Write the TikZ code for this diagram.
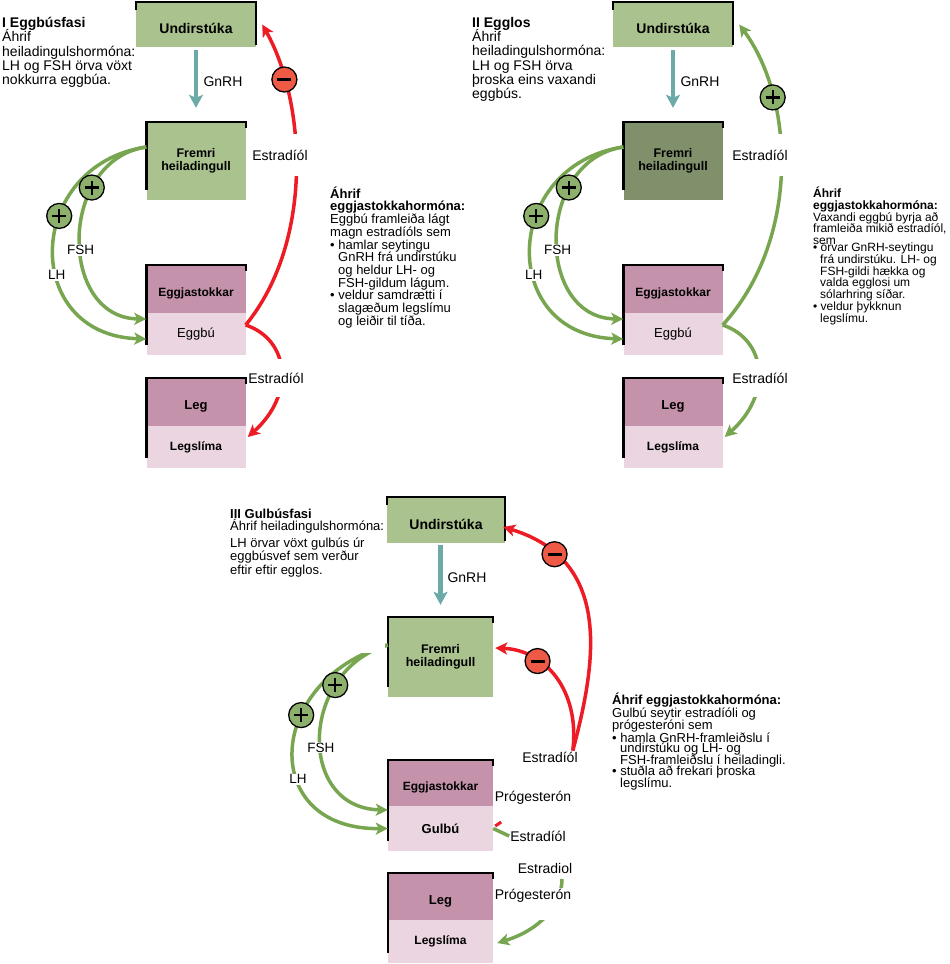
\documentclass[tikz,border=0pt]{standalone}
\usepackage{fontspec}
\setmainfont{Liberation Sans}
\usetikzlibrary{arrows.meta}
\definecolor{glandgreen}{HTML}{AAC28E}
\definecolor{glanddark}{HTML}{80906A}
\definecolor{ovmauve}{HTML}{C492AA}
\definecolor{ovpink}{HTML}{EAD5E0}
\definecolor{gnrhteal}{HTML}{6CAAAA}
\definecolor{stimgreen}{HTML}{78A550}
\definecolor{inhibred}{HTML}{ED1C24}
\definecolor{plusfill}{HTML}{8DB06C}
\definecolor{minusfill}{HTML}{EE5A45}
\newcommand{\fsz}[1]{\fontsize{#1}{#1}\selectfont}
\setlength{\lineskiplimit}{-\maxdimen}
\tikzset{
    every node/.style={font=\fsz{14}},
    hypo/.style={rectangle,fill=glandgreen,inner sep=0pt,minimum width=120pt,minimum height=45pt,text height=18pt,text depth=0pt,font=\bfseries\fsz{14}},
    pit/.style={rectangle,fill=glandgreen,inner sep=0pt,minimum width=99pt,minimum height=78pt,align=center,font=\bfseries\fontsize{12.5}{12.5}\selectfont},
    ovary/.style={rectangle,fill=ovmauve,inner sep=0pt,minimum width=99pt,minimum height=48pt,text height=18pt,text depth=3pt,font=\bfseries\fsz{12}},
    follicle/.style={rectangle,fill=ovpink,inner sep=0pt,minimum width=99pt,minimum height=42pt,font=\fsz{13}},
    rim/.style={black,line width=2.4pt},
    gnrh/.style={gnrhteal,line width=4.5pt,-{Stealth[length=13pt,width=14pt,inset=3pt]}},
    stim/.style={stimgreen,line width=3.5pt,-{Stealth[length=12pt,width=12pt,inset=3pt]}},
    inhib/.style={inhibred,line width=3.5pt,-{Stealth[length=12pt,width=12pt,inset=3pt]}},
    plus/.style={circle,draw=black,fill=plusfill,line width=1.3pt,minimum size=25pt,inner sep=0pt,
        path picture={\draw[-,black,line width=2.2pt]
            ([xshift=-7pt]path picture bounding box.center) -- ([xshift=7pt]path picture bounding box.center)
            ([yshift=-7pt]path picture bounding box.center) -- ([yshift=7pt]path picture bounding box.center);}},
    minus/.style={circle,draw=black,fill=minusfill,line width=1.3pt,minimum size=25pt,inner sep=0pt,
        path picture={\draw[-,black,line width=3pt]
            ([xshift=-7pt]path picture bounding box.center) -- ([xshift=7pt]path picture bounding box.center);}},
    hormone/.style={fill=white,text=black,inner sep=1pt,font=\fsz{14}},
    txt/.style={anchor=north west,align=left,inner sep=0pt,text=black}
}

\begin{document}
\begin{tikzpicture}[x=1pt,y=1pt]
    \useasboundingbox (0,0) rectangle (950,-964);
    \fill[white] (0,0) rectangle (950,-964);

    % I Eggbusfasi
    \node[txt,font=\fontsize{14}{14.3}\selectfont] (head1) at (2,-17)
        {\textbf{I Eggbúsfasi}\\Áhrif\\heiladingulshormóna:\\LH og FSH örva vöxt\\nokkurra eggbúa.};
    \node[hypo] (und1) at (196,-24.5) {Undirstúka};
    \node[pit] (fre1) at (196,-161) {Fremri\\heiladingull};
    \node[ovary] (ova1) at (196,-289) {Eggjastokkar};
    \node[follicle] (fol1) at (196,-334) {Eggbú};
    \node[ovary,font=\bfseries\fsz{13}] (leg1) at (196,-402) {Leg};
    \node[follicle,font=\bfseries\fsz{12}] (end1) at (196,-447) {Legslíma};
    \draw[rim] ([yshift=-8pt]und1.north west) |- (und1.north east) -- ([yshift=2pt]und1.south east);
    \foreach \t/\b in {fre1/fre1,ova1/fol1,leg1/end1}
        \draw[rim] ([yshift=10pt]\b.south west) |- (\t.north east) -- ++(0,-6);
    \draw[gnrh,shorten <=3pt,shorten >=14pt] (und1.south -| fre1.north) -- (fre1.north);
    \node (gn1) at (223,-82) {GnRH};
    \draw[stim] ([yshift=14pt]fre1.west) .. controls (25,-165) and (20,-335) .. ([yshift=-5pt]fol1.west)
        node[plus,pos=.38] (pa1) {} node[hormone,font=\fsz{13.5},pos=.6] (lh1) {LH};
    \draw[stim] ([yshift=14pt]fre1.west) .. controls (58,-160) and (58,-318) .. ([yshift=15pt]fol1.west)
        node[plus,pos=.29] (pb1) {} node[hormone,font=\fsz{13.5},pos=.55] (fsh1) {FSH};
    \draw[inhib] ([yshift=9pt]fol1.east) .. controls (315,-240) and (305,-100) .. ([xshift=6pt]und1.east)
        node[minus,pos=.79] (m1) {};
    \draw[inhib] ([yshift=9pt]fol1.east) .. controls (290,-340) and (295,-395) .. ([shift={(2pt,10pt)}]end1.east);
    \node[hormone,inner ysep=16pt] (e1a) at (280,-155) {Estradíól};
    \node[hormone,inner ysep=14pt] (e1b) at (276,-378) {Estradíól};
    \node[txt,font=\fontsize{13}{12.7}\selectfont] (eff1) at (330,-186.5)
        {\textbf{Áhrif}\\
         \textbf{eggjastokkahormóna:}\\
         Eggbú framleiða lágt\\
         magn estradíóls sem\\
         \textbullet\ hamlar seytingu\\
         \hspace*{8pt}GnRH frá undirstúku\\
         \hspace*{8pt}og heldur LH- og\\
         \hspace*{8pt}FSH-gildum lágum.\\
         \textbullet\ veldur samdrætti í\\
         \hspace*{8pt}slagæðum legslímu\\
         \hspace*{8pt}og leiðir til tíða.};

    % II Egglos
    \begin{scope}[xshift=477pt]
        \node[txt,font=\fontsize{14}{14.3}\selectfont] (head2) at (-5,-17)
            {\textbf{II Egglos}\\Áhrif\\heiladingulshormóna:\\LH og FSH örva\\þroska eins vaxandi\\eggbús.};
        \node[hypo] (und2) at (196,-24.5) {Undirstúka};
        \node[pit,fill=glanddark] (fre2) at (196,-161) {Fremri\\heiladingull};
        \node[ovary] (ova2) at (196,-289) {Eggjastokkar};
        \node[follicle] (fol2) at (196,-334) {Eggbú};
        \node[ovary,font=\bfseries\fsz{13}] (leg2) at (196,-402) {Leg};
        \node[follicle,font=\bfseries\fsz{12}] (end2) at (196,-447) {Legslíma};
        \draw[rim] ([yshift=-8pt]und2.north west) |- (und2.north east) -- ([yshift=2pt]und2.south east);
        \foreach \t/\b in {fre2/fre2,ova2/fol2,leg2/end2}
            \draw[rim] ([yshift=10pt]\b.south west) |- (\t.north east) -- ++(0,-6);
        \draw[gnrh,shorten <=3pt,shorten >=14pt] (und2.south -| fre2.north) -- (fre2.north);
        \node (gn2) at (223,-82) {GnRH};
        \draw[stim] ([yshift=14pt]fre2.west) .. controls (25,-165) and (20,-335) .. ([yshift=-5pt]fol2.west)
            node[plus,pos=.38] (pa2) {} node[hormone,font=\fsz{13.5},pos=.6] (lh2) {LH};
        \draw[stim] ([yshift=14pt]fre2.west) .. controls (58,-160) and (58,-318) .. ([yshift=15pt]fol2.west)
            node[plus,pos=.29] (pb2) {} node[hormone,font=\fsz{13.5},pos=.55] (fsh2) {FSH};
        \draw[stim] ([yshift=9pt]fol2.east) .. controls (323,-240) and (318,-100) .. ([xshift=6pt]und2.east)
            node[plus,pos=.73] (pc2) {};
        \draw[stim] ([yshift=9pt]fol2.east) .. controls (290,-340) and (295,-395) .. ([shift={(2pt,10pt)}]end2.east);
        \node[hormone,inner ysep=16pt] (e2a) at (283,-155) {Estradíól};
        \node[hormone,inner ysep=14pt] (e2b) at (283,-378) {Estradíól};
        \node[txt,font=\fontsize{12}{11.7}\selectfont] (eff2) at (336,-187)
            {\textbf{Áhrif}\\
             \textbf{eggjastokkahormóna:}\\
             Vaxandi eggbú byrja að\\
             framleiða mikið estradíól,\\
             sem\\[-4.5pt]
             \textbullet\ örvar GnRH-seytingu\\
             \hspace*{7pt}frá undirstúku. LH- og\\
             \hspace*{7pt}FSH-gildi hækka og\\
             \hspace*{7pt}valda egglosi um\\
             \hspace*{7pt}sólarhring síðar.\\
             \textbullet\ veldur þykknun\\
             \hspace*{7pt}legslímu.};
    \end{scope}

    % III Gulbusfasi
    \node[txt,font=\fontsize{13}{13.5}\selectfont] (head3) at (230,-508.5)
        {\textbf{III Gulbúsfasi}\\[-1.5pt]Áhrif heiladingulshormóna:\\[3.5pt]LH örvar vöxt gulbús úr\\eggbúsvef sem verður\\eftir eftir egglos.};
    \node[hypo,minimum width=118pt,minimum height=46pt] (und3) at (446,-520) {Undirstúka};
    \node[pit,minimum width=105pt,minimum height=80pt] (fre3) at (440.5,-657) {Fremri\\heiladingull};
    \node[ovary,minimum width=105pt,minimum height=46pt] (ova3) at (440.5,-783) {Eggjastokkar};
    \node[follicle,minimum width=105pt,minimum height=45pt,font=\bfseries\fsz{13}] (gul3) at (440.5,-828.5) {Gulbú};
    \node[ovary,minimum width=105pt,minimum height=47pt,font=\bfseries\fsz{13}] (leg3) at (440.5,-896.5) {Leg};
    \node[follicle,minimum width=105pt,minimum height=43pt,font=\bfseries\fsz{12}] (end3) at (440.5,-941.5) {Legslíma};
    \draw[rim] ([yshift=-8pt]und3.north west) |- (und3.north east) -- ([yshift=2pt]und3.south east);
    \foreach \t/\b in {fre3/fre3,ova3/gul3,leg3/end3}
        \draw[rim] ([yshift=10pt]\b.south west) |- (\t.north east) -- ++(0,-6);
    \draw[gnrh,shorten <=2pt,shorten >=12pt] (und3.south -| fre3.north) -- (fre3.north);
    \node (gn3) at (467,-578) {GnRH};
    \begin{scope}
        \clip (250,-653) rectangle (400,-850) (385,-640) rectangle (400,-653);
        \draw[stim] ([yshift=12pt]fre3.west) .. controls (265,-680) and (258,-830) .. (gul3.west)
            node[plus,pos=.36] (pa3) {} node[hormone,font=\fsz{13.5},pos=.62] (lh3) {LH};
        \draw[stim] ([yshift=12pt]fre3.west) .. controls (300,-670) and (296,-808) .. ([yshift=18.5pt]gul3.west)
            node[plus,pos=.27] (pb3) {} node[hormone,font=\fsz{13.5},pos=.55] (fsh3) {FSH};
    \end{scope}
    \node[hormone] (e3a) at (550,-757) {Estradíól};
    \draw[inhib] ([xshift=-6pt]e3a.north east) .. controls (597,-660) and (612,-560) .. ([shift={(-2pt,-7pt)}]und3.east)
        node[minus,pos=.8] (m3a) {};
    \draw[inhib] ([xshift=-6pt]e3a.north east) .. controls (580,-690) and (545,-650) .. ([shift={(2pt,9pt)}]fre3.east)
        node[minus,pos=.68] (m3b) {};
    \node[hormone] (pg3a) at (533,-798) {Prógesterón};
    \node[hormone] (e3b) at (538,-836) {Estradíól};
    \draw[stimgreen,line width=3.5pt] (e3b.west) -- (gul3.east);
    \draw[inhibred,line width=3pt] ([shift={(2pt,2.5pt)}]gul3.east) -- ++(6,4);
    \coordinate (src3) at (562,-879);
    \draw[stim] (src3) .. controls (562,-905) and (540,-930) .. ([shift={(4pt,-1.5pt)}]end3.east);
    \node[hormone] (e3c) at (545,-868) {Estradiol};
    \node[hormone,anchor=base,text depth=20pt] (pg3b) at (533,-899) {Prógesterón};
    \node[txt,font=\fontsize{13}{11.5}\selectfont] (eff3) at (612,-692.5)
        {\textbf{Áhrif eggjastokkahormóna:}\\[2pt]
         Gulbú seytir estradíóli og\\
         prógesteróni sem\\[2pt]
         \textbullet\ hamla GnRH-framleiðslu í\\[-1.5pt]
         \hspace*{8pt}undirstúku og LH- og\\
         \hspace*{8pt}FSH-framleiðslu í heiladingli.\\
         \textbullet\ stuðla að frekari þroska\\
         \hspace*{8pt}legslímu.};
\end{tikzpicture}
\end{document}
